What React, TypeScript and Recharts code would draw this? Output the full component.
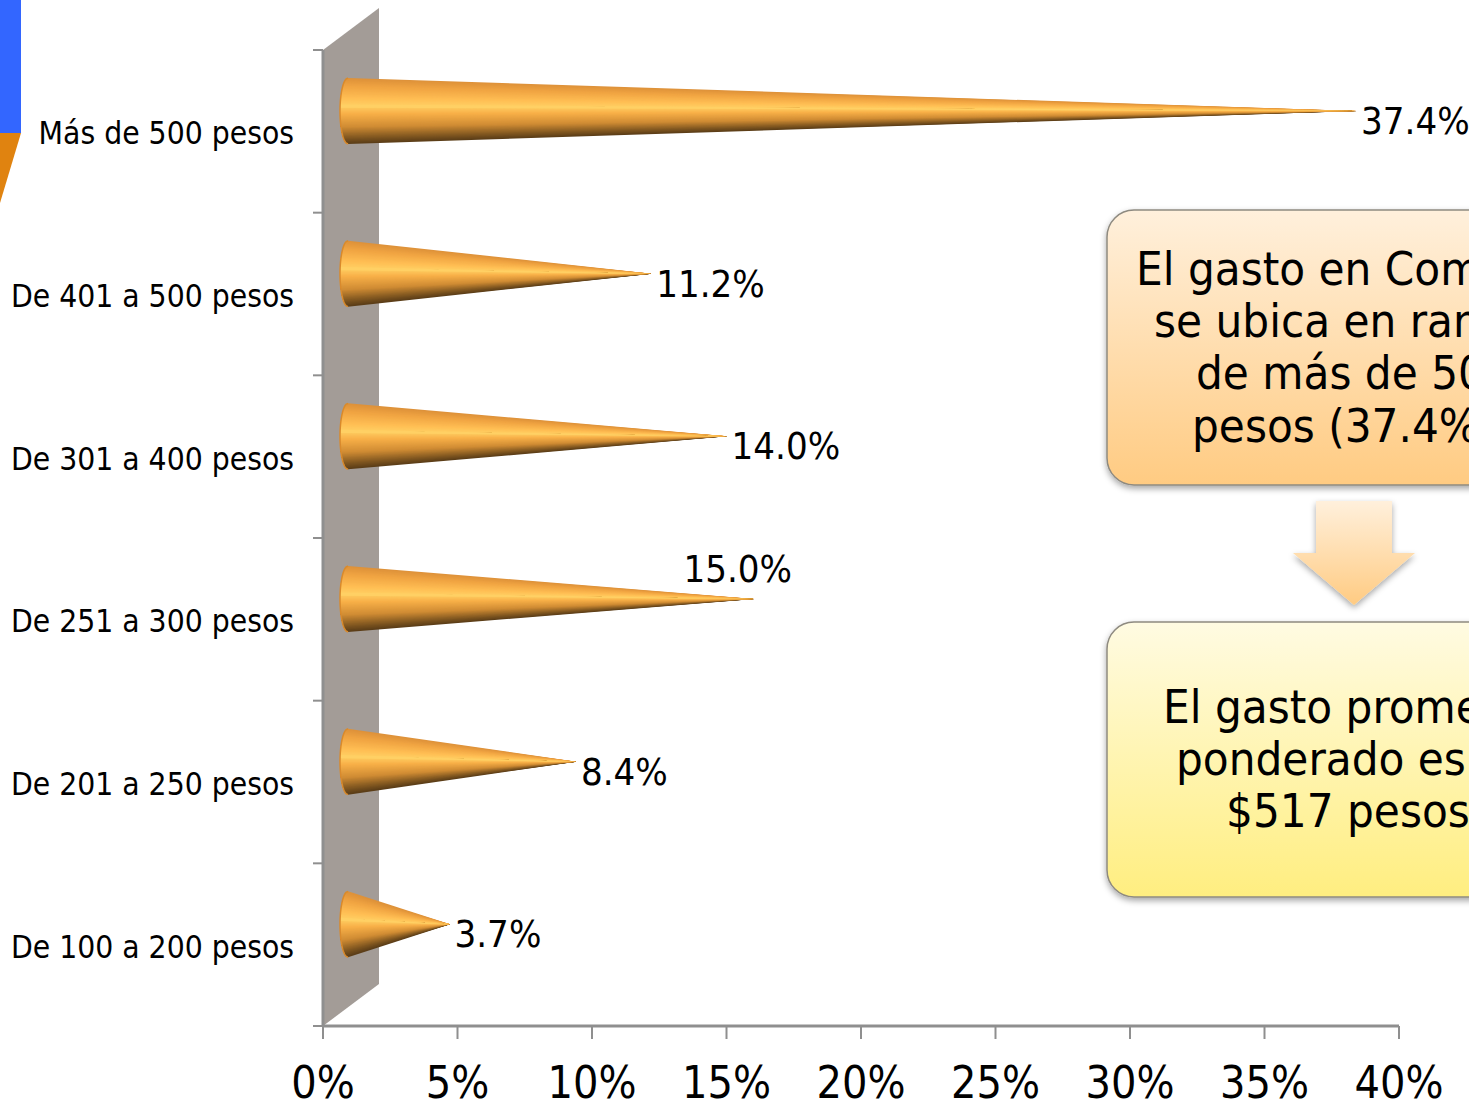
import React from "react";
import { BarChart, Bar, XAxis, YAxis, LabelList } from "recharts";

const categories = ["Más de 500 pesos", "De 401 a 500 pesos", "De 301 a 400 pesos", "De 251 a 300 pesos", "De 201 a 250 pesos", "De 100 a 200 pesos"];
const shares = [37.4, 11.2, 14.0, 15.0, 8.4, 3.7];
const xTicks = [0, 5, 10, 15, 20, 25, 30, 35, 40];
const calloutTop = ["El gasto en Com", "se ubica en ran", "de más de 50", "pesos (37.4%"];
const calloutBottom = ["El gasto prome", "ponderado es", "$517 pesos"];

const rows = categories.map((name, i) => ({ name, value: shares[i] }));

const W = 1469;
const H = 1109;
const FONT = "'DejaVu Sans Condensed', 'DejaVu Sans', sans-serif";
const AXIS = "#8f8f8f";
const BAND = 162.67;
const PEAK = 0.42;

const STOPS: [number, number[]][] = [
  [0, [222, 146, 58]],
  [0.12, [240, 164, 66]],
  [0.3, [255, 190, 84]],
  [0.42, [255, 208, 100]],
  [0.55, [248, 176, 72]],
  [0.75, [208, 140, 52]],
  [0.9, [136, 92, 34]],
  [1, [92, 62, 24]],
];
function shade(t: number) {
  for (let i = 1; i < STOPS.length; i++) {
    if (t <= STOPS[i][0]) {
      const [a, ca] = STOPS[i - 1];
      const [b, cb] = STOPS[i];
      const k = (t - a) / (b - a);
      return `rgb(${ca.map((c, j) => Math.round(c + (cb[j] - c) * k)).join(",")})`;
    }
  }
  return "rgb(92,62,24)";
}

function Cone(props: any) {
  const { x, y, width, height } = props;
  const cy = y + height / 2 - 20;
  const tipX = x + width + 27.5;
  const baseX = x + 17;
  const r = 33;
  const n = 60;
  const pk = Math.round(n * PEAK);
  const pt = (i: number): string => {
    const t = i / n;
    const px = baseX + 8 * (1 - Math.sqrt(Math.max(0, 1 - (2 * t - 1) ** 2)));
    return `${px},${cy - r + 2 * r * t}`;
  };
  const span = (from: number, to: number) => {
    const arc = [];
    for (let j = from; j <= to; j++) arc.push(pt(j));
    return `${arc.join(" ")} ${tipX},${cy}`;
  };
  const layers = [];
  // painter's order: every layer covers everything from its edge to the brightest line
  for (let i = 0; i <= pk; i++) {
    layers.push(<polygon key={`a${i}`} points={span(i, pk + 1)} fill={shade(i / n)} />);
  }
  for (let i = n; i > pk; i--) {
    layers.push(<polygon key={`b${i}`} points={span(pk, i)} fill={shade(i / n)} />);
  }
  // cap over the line where all the layer edges meet
  layers.push(<polygon key="cap" points={span(pk - 1, pk + 2)} fill={shade(pk / n)} />);
  return (
    <g>
      {layers}
      <polyline points={span(0, n).split(" ").slice(0, -1).join(" ")} fill="none" stroke="#d98a2c" strokeWidth={1.5} />
    </g>
  );
}

function ValueLabel(props: any) {
  const { x, y, width, height, value, index } = props;
  const raised = categories[index] === "De 251 a 300 pesos";
  const cy = y + height / 2;
  const tx = raised ? x + width - 43 : x + width + 32;
  const ty = raised ? cy - 50 : cy - 10;
  return (
    <text x={tx} y={ty} dominantBaseline="central" fontFamily={FONT} fontSize={38} fill="#000">
      {Number(value).toFixed(1)}%
    </text>
  );
}

function CategoryTick(props: any) {
  const { y, payload, index } = props;
  const axisX = 323;
  const last = index === categories.length - 1;
  return (
    <g>
      <line x1={axisX - 10} x2={axisX} y1={y - BAND / 2} y2={y - BAND / 2} stroke={AXIS} strokeWidth={2} />
      {last && <line x1={axisX - 10} x2={axisX} y1={y + BAND / 2} y2={y + BAND / 2} stroke={AXIS} strokeWidth={2} />}
      <text x={294} y={y + 2} textAnchor="end" dominantBaseline="central" fontFamily={FONT} fontSize={31.5} fill="#000">
        {payload.value}
      </text>
    </g>
  );
}

function PercentTick(props: any) {
  const { x, y, payload } = props;
  return (
    <text x={x} y={y + 57} textAnchor="middle" fontFamily={FONT} fontSize={44.5} fill="#000">
      {payload.value}%
    </text>
  );
}

function Callout({ y, grad, lines, xs, baselines }: any) {
  return (
    <g>
      <rect x={1107} y={y} width={500} height={275} rx={27} fill={`url(#${grad})`} stroke="#8e8a80" strokeWidth={1.5} filter="url(#soft)" />
      {lines.map((l: string, i: number) => (
        <text key={l} x={xs[i]} y={baselines[i]} fontFamily={FONT} fontSize={47} fill="#000">
          {l}
        </text>
      ))}
    </g>
  );
}

export default function App() {
  return (
    <div style={{ position: "absolute", left: 0, top: 0, width: W, height: H, overflow: "hidden", background: "#fff" }}>
      <svg width={W} height={H} style={{ position: "absolute", left: 0, top: 0 }}>
        <rect x={0} y={0} width={21} height={133} fill="#3366ff" />
        <polygon points="0,133 21,133 0,203" fill="#e08310" />
        <polygon points="323,50 379,8 379,984 323,1026" fill="#a39c97" />
        <line x1={323} y1={50} x2={323} y2={1026} stroke={AXIS} strokeWidth={3} />
      </svg>
      <div style={{ position: "absolute", left: 0, top: 0 }}>
        <BarChart
          width={W}
          height={H}
          data={rows}
          layout="vertical"
          margin={{ top: 50, right: 70, bottom: 0, left: 0 }}
          barSize={66}
        >
          <XAxis
            type="number"
            dataKey="value"
            domain={[0, 40]}
            ticks={xTicks}
            height={83}
            interval={0}
            axisLine={{ stroke: AXIS, strokeWidth: 3 }}
            tickLine={{ stroke: AXIS, strokeWidth: 2 }}
            tickSize={13}
            tick={<PercentTick />}
          />
          <YAxis
            type="category"
            dataKey="name"
            width={323}
            interval={0}
            axisLine={false}
            tickLine={false}
            tick={<CategoryTick />}
          />
          <Bar dataKey="value" isAnimationActive={false} shape={<Cone />}>
            <LabelList dataKey="value" content={<ValueLabel />} />
          </Bar>
        </BarChart>
      </div>
      <svg width={W} height={H} style={{ position: "absolute", left: 0, top: 0 }}>
        <defs>
          <linearGradient id="peach" x1="0" y1="0" x2="0" y2="1">
            <stop offset="0" stopColor="#fff0dc" />
            <stop offset="1" stopColor="#ffcb82" />
          </linearGradient>
          <linearGradient id="lemon" x1="0" y1="0" x2="0" y2="1">
            <stop offset="0" stopColor="#fffbe2" />
            <stop offset="1" stopColor="#ffee80" />
          </linearGradient>
          <filter id="soft" x="-10%" y="-10%" width="120%" height="125%">
            <feDropShadow dx="0" dy="3" stdDeviation="3" floodColor="#000" floodOpacity="0.35" />
          </filter>
        </defs>
        <Callout y={210} grad="peach" lines={calloutTop} xs={[1136, 1154, 1196, 1192]} baselines={[285, 337, 389, 442]} />
        <polygon points="1316,501 1392,501 1392,553 1415,553 1354,605 1293,553 1316,553" fill="url(#peach)" filter="url(#soft)" />
        <Callout y={622} grad="lemon" lines={calloutBottom} xs={[1163, 1176, 1226]} baselines={[723, 775, 827]} />
      </svg>
    </div>
  );
}
